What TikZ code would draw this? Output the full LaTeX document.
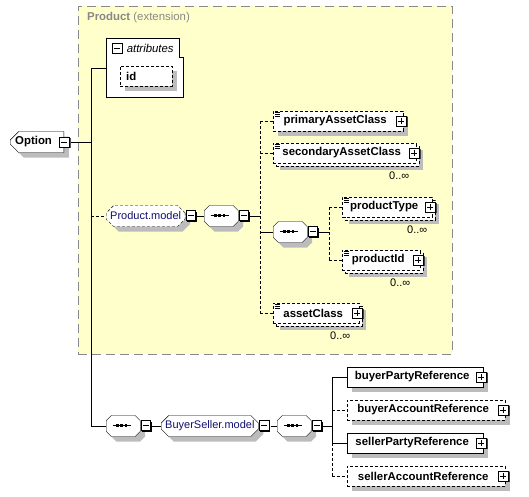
\documentclass[tikz,border=0pt]{standalone}
\usepackage{fontspec}
\setmainfont{Liberation Sans}
\usepackage{tikz}
\usetikzlibrary{shapes.misc}
\definecolor{extfill}{RGB}{255,255,204}
\definecolor{extline}{RGB}{136,136,136}
\definecolor{shadegray}{RGB}{188,188,188}
\definecolor{modelblue}{RGB}{16,16,112}
\newcommand{\seqmark}{\rule[1.6pt]{3.5pt}{0.7pt}\rule[0.6pt]{2.6pt}{2.6pt}\rule[1.6pt]{1.6pt}{0.7pt}%
  \rule[0.6pt]{2.6pt}{2.6pt}\rule[1.6pt]{1.6pt}{0.7pt}\rule[0.6pt]{2.6pt}{2.6pt}\rule[1.6pt]{3.5pt}{0.7pt}}

\begin{document}
\begin{tikzpicture}[x=1pt, y=-1pt,
  every node/.style={font=\fontsize{11.4}{13}\selectfont\bfseries, inner sep=0pt},
  reg/.style={font=\fontsize{11}{13}\selectfont},
  opt/.style={dash pattern=on 3pt off 2pt},
  one/.style={preaction={fill=shadegray, transform canvas={xshift=5pt, yshift=-5pt}}},
  many/.style={preaction={fill=shadegray, transform canvas={xshift=7pt, yshift=-7pt}},
    preaction={draw, opt, fill=white, transform canvas={xshift=3pt, yshift=-3pt}}},
  elem/.style={draw, fill=white, anchor=west, minimum height=20pt, inner xsep=3pt,
    execute at end node={\hspace*{6pt}}},
  simple/.style={path picture={\foreach \k in {1.5,3.5,5.5}
    \draw[solid, line width=0.7pt] ([xshift=2pt, yshift=-\k pt]path picture bounding box.north west) -- ++(5,0);}},
  tog/.style={solid, minimum size=11.6pt, inner sep=0pt},
  minus/.style={tog, path picture={
    \fill ([shift={(1.6pt,0pt)}]path picture bounding box.south west) rectangle ([shift={(0pt,-1.6pt)}]path picture bounding box.north east);
    \draw[fill=white] ([shift={(0.3pt,1.6pt)}]path picture bounding box.south west) rectangle ([shift={(-1.6pt,-0.3pt)}]path picture bounding box.north east);
    \draw ([shift={(2.3pt,0.65pt)}]path picture bounding box.west) -- ([shift={(-3.6pt,0.65pt)}]path picture bounding box.east);}},
  plus/.style={tog, path picture={
    \fill ([shift={(1.6pt,0pt)}]path picture bounding box.south west) rectangle ([shift={(0pt,-1.6pt)}]path picture bounding box.north east);
    \draw[fill=white] ([shift={(0.3pt,1.6pt)}]path picture bounding box.south west) rectangle ([shift={(-1.6pt,-0.3pt)}]path picture bounding box.north east);
    \draw ([shift={(2.3pt,0.65pt)}]path picture bounding box.west) -- ([shift={(-3.6pt,0.65pt)}]path picture bounding box.east);
    \draw ([shift={(-0.65pt,3.6pt)}]path picture bounding box.south) -- ([shift={(-0.65pt,-2.3pt)}]path picture bounding box.north);}},
  rootbox/.style={chamfered rectangle, chamfered rectangle corners={north west, south west},
    chamfered rectangle xsep=5pt, draw, fill=white, one, anchor=west, minimum width=53pt, minimum height=21pt,
    execute at end node={\hspace*{7pt}}},
  seq/.style={chamfered rectangle, chamfered rectangle xsep=5pt, draw, fill=white, one, anchor=west,
    minimum width=34pt, minimum height=21pt, execute at end node={\hspace*{3pt}}},
  grp/.style={chamfered rectangle, chamfered rectangle xsep=4pt, draw, fill=white, one, anchor=west,
    minimum height=21pt, reg, text=modelblue}
]
\useasboundingbox (0,0) rectangle (529,496);

% extension frame
\node[draw=extline, fill=extfill, line width=0.9pt, dash pattern=on 9pt off 5pt,
  minimum width=374pt, minimum height=348pt, anchor=north west] (ext) at (78,6) {};
\node[anchor=west, text=extline] (ext-l) at ([xshift=9pt, yshift=-12pt]ext.north west) {Product \mdseries(extension)};

% root
\node[rootbox] (option) at (10,142) {Option};
\node[minus] (option-t) at ([shift={(0.6,0.6)}]option.east) {};

% attributes
\node[anchor=north west, minimum width=77pt, minimum height=59pt] (attr) at (106,38) {};
\draw[fill=white] (attr.north west) -- ([xshift=-4pt]attr.north east) -- ++(0,19) -- ++(4,0)
  -- (attr.south east) -- (attr.south west) -- cycle;
\node[minus] (attr-t) at ([xshift=11.6pt, yshift=-10.6pt]attr.north west) {};
\node[anchor=west, font=\fontsize{11.4}{13}\selectfont\itshape] (attr-l) at ([xshift=3pt]attr-t.east) {attributes};
\node[elem, opt, one, anchor=north west, minimum width=52pt, execute at end node={\hspace*{24pt}}] (id)
  at ([xshift=14pt, yshift=-28pt]attr.north west) {id};

% Product.model
\node[grp, opt, minimum width=77pt] (pmodel) at (106,216) {Product.model};
\node[minus, anchor=west] (pmodel-t) at (pmodel.east) {};
\node[seq] (seqA) at (204,216) {\seqmark};
\node[minus, anchor=west] (seqA-t) at (seqA.east) {};

\node[elem, opt, one, simple, minimum width=130pt] (primary) at (273,121) {primaryAssetClass};
\node[plus] (primary-t) at ([xshift=-1.5pt, yshift=-0.6pt]primary.east) {};
\node[elem, opt, many, simple, minimum width=143pt] (secondary) at (273,153) {secondaryAssetClass};
\node[plus] (secondary-t) at ([xshift=-1.5pt, yshift=-0.6pt]secondary.east) {};
\node[reg, anchor=north east] (secondary-n) at ([xshift=-7pt, yshift=-8pt]secondary.south east) {0..∞};

\node[seq] (seqC) at (273,232) {\seqmark};
\node[minus, anchor=west] (seqC-t) at (seqC.east) {};
\node[elem, opt, many, simple, minimum width=90pt] (ptype) at (342,207) {productType};
\node[plus] (ptype-t) at ([xshift=-1.5pt, yshift=-0.6pt]ptype.east) {};
\node[reg, anchor=north east] (ptype-n) at ([xshift=-5pt, yshift=-8pt]ptype.south east) {0..∞};
\node[elem, opt, many, simple, minimum width=78pt] (pid) at (342,260) {productId};
\node[plus] (pid-t) at ([xshift=-1.5pt, yshift=-0.6pt]pid.east) {};
\node[reg, anchor=north east] (pid-n) at ([xshift=-10pt, yshift=-8pt]pid.south east) {0..∞};

\node[elem, opt, many, simple, minimum width=86pt] (asset) at (273,313) {assetClass};
\node[plus] (asset-t) at ([xshift=-1.5pt, yshift=-0.6pt]asset.east) {};
\node[reg, anchor=north east] (asset-n) at ([xshift=-9pt, yshift=-8pt]asset.south east) {0..∞};

% BuyerSeller.model
\node[seq] (seqB) at (106,426) {\seqmark};
\node[minus, anchor=west] (seqB-t) at (seqB.east) {};
\node[grp, minimum width=96pt] (bsmodel) at (161,426) {BuyerSeller.model};
\node[minus, anchor=west] (bsmodel-t) at (bsmodel.east) {};
\node[seq] (seqD) at (277,426) {\seqmark};
\node[minus, anchor=west] (seqD-t) at (seqD.east) {};

\node[elem, one, minimum width=136pt] (bparty) at (347,377) {buyerPartyReference};
\node[plus] (bparty-t) at ([xshift=-1.5pt, yshift=-0.6pt]bparty.east) {};
\node[elem, opt, one, minimum width=158pt] (baccount) at (347,410) {buyerAccountReference};
\node[plus] (baccount-t) at ([xshift=-1.5pt, yshift=-0.6pt]baccount.east) {};
\node[elem, one, minimum width=136pt] (sparty) at (347,443) {sellerPartyReference};
\node[plus] (sparty-t) at ([xshift=-1.5pt, yshift=-0.6pt]sparty.east) {};
\node[elem, opt, one, minimum width=158pt] (saccount) at (347,476) {sellerAccountReference};
\node[plus] (saccount-t) at ([xshift=-1.5pt, yshift=-0.6pt]saccount.east) {};

% connectors
\coordinate (trunk) at (91,142.6);
\draw (option-t.east) -- (trunk);
\draw (trunk) |- (attr.west);
\draw (trunk) |- (seqB.west);
\draw[opt] (trunk |- pmodel.west) -- (pmodel.west);
\draw (pmodel-t.east) -- (seqA.west);

\coordinate (fork) at ([xshift=10pt]seqA-t.east);
\draw (seqA-t.east) -- (fork);
\draw[opt] (fork |- primary.west) -- (fork |- asset.west);
\draw[opt] (fork |- primary.west) -- (primary.west);
\draw[opt] (fork |- secondary.west) -- (secondary.west);
\draw[opt] (fork |- asset.west) -- (asset.west);
\draw (fork |- seqC.west) -- (seqC.west);

\coordinate (choice) at ([xshift=10pt]seqC-t.east);
\draw (seqC-t.east) -- (choice);
\draw[opt] (choice |- ptype.west) -- (choice |- pid.west);
\draw[opt] (choice |- ptype.west) -- (ptype.west);
\draw[opt] (choice |- pid.west) -- (pid.west);

\draw (seqB-t.east) -- (bsmodel.west);
\draw (bsmodel-t.east) -- (seqD.west);
\coordinate (split) at ([xshift=9pt]seqD-t.east);
\draw (seqD-t.east) -- (split);
\draw (split |- bparty.west) -- (split |- sparty.west);
\draw[opt] (split |- sparty.west) -- (split |- saccount.west);
\draw (split |- bparty.west) -- (bparty.west);
\draw[opt] (split |- baccount.west) -- (baccount.west);
\draw (split |- sparty.west) -- (sparty.west);
\draw[opt] (split |- saccount.west) -- (saccount.west);
\end{tikzpicture}
\end{document}
